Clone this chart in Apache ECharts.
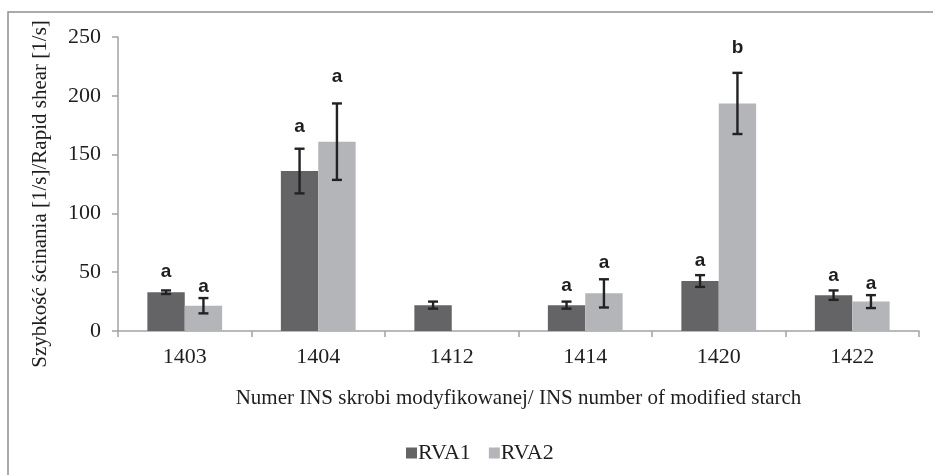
<!DOCTYPE html>
<html>
<head>
<meta charset="utf-8">
<script src="https://cdn.jsdelivr.net/npm/echarts@6/dist/echarts.min.js"></script>
<style>
  html, body { margin: 0; padding: 0; background: #fff; }
  #main { width: 933px; height: 475px; }
</style>
</head>
<body>
<div id="main"></div>
<script>
// kategorie (numer INS) i wartości
var categories = ["1403", "1404", "1412", "1414", "1420", "1422"];
var rva1 = [33, 136, 22, 22, 42.5, 30.5];
var rva2 = [21.5, 161, null, 32, 193.5, 25];
// odchylenia (± wartość słupka błędu)
var err1 = [1.5, 19, 3, 3, 5, 4];
var err2 = [6.5, 32.5, null, 12, 26, 5.5];
// litery istotności i wysokość ich zaczepienia (w jednostkach osi Y)
var letters1 = ["a", "a", "", "a", "a", "a"];
var letters2 = ["a", "a", "", "a", "b", "a"];
var letterAt1 = [50, 174, null, 38.5, 60, 47];
var letterAt2 = [37.5, 216, null, 58, 240.5, 40.5];
var yTicks = [0, 50, 100, 150, 200, 250];

var serif = "'Liberation Serif', 'Times New Roman', serif";
var narrow = "'Liberation Sans Narrow', 'Liberation Sans', Arial, sans-serif";
var ink = "#1e1e1e";
var gapRatio = 0.44;

/** słupki błędów + litery; side = -1 (RVA1) albo +1 (RVA2) */
function errorSeries(name, vals, errs, letters, letterAt, side) {
    var data = vals.map(function (v, i) {
        if (v == null) return [i, null, null, null, ""];
        return [i, v - errs[i], v + errs[i], letterAt[i], letters[i]];
    });
    return {
        name: name + "-err", type: "custom", z: 5,
        data: data,
        renderItem: function (params, api) {
            var lo = api.value(1);
            if (lo == null || isNaN(lo)) return;
            var hi = api.value(2);
            var band = api.size([1, 0])[0];
            var barW = band * (1 - gapRatio) / 2;
            var pLo = api.coord([api.value(0), lo]);
            var pHi = api.coord([api.value(0), hi]);
            var x = pLo[0] + side * barW / 2;
            var cap = 5;
            var st = { stroke: "#222", lineWidth: 2.4 };
            var children = [
                { type: "line", shape: { x1: x, y1: pHi[1], x2: x, y2: pLo[1] }, style: st },
                { type: "line", shape: { x1: x - cap, y1: pHi[1], x2: x + cap, y2: pHi[1] }, style: st },
                { type: "line", shape: { x1: x - cap, y1: pLo[1], x2: x + cap, y2: pLo[1] }, style: st }
            ];
            var txt = data[params.dataIndex][4];
            if (txt) {
                var pL = api.coord([api.value(0), api.value(3)]);
                children.push({
                    type: "text",
                    style: {
                        x: x, y: pL[1], text: txt,
                        fill: ink, font: "bold 19px " + narrow,
                        align: "center", verticalAlign: "middle"
                    }
                });
            }
            return { type: "group", children: children };
        }
    };
}

var chart = echarts.init(document.getElementById("main"), null, { renderer: "canvas" });

chart.setOption({
    backgroundColor: "#fff",
    animation: false,
    textStyle: { fontFamily: serif },
    graphic: [
        {
            type: "rect", silent: true,
            shape: { x: 8, y: 12, width: 940, height: 480 },
            style: { fill: "none", stroke: "#8e8e8e", lineWidth: 1.5 }
        },
        {
            type: "text", silent: true,
            x: 40, y: 194, rotation: Math.PI / 2,
            style: {
                text: "Szybkość ścinania [1/s]/Rapid shear [1/s]",
                fill: ink, font: "21px " + serif,
                align: "center", verticalAlign: "middle"
            }
        }
    ],
    legend: {
        data: ["RVA1", "RVA2"],
        left: 401, top: 437,
        icon: "rect", itemWidth: 11, itemHeight: 11, itemGap: 18,
        textStyle: { color: ink, fontSize: 22, fontFamily: serif, padding: [0, 0, 0, -4] }
    },
    grid: { left: 118, right: 14, top: 37, bottom: 144 },
    xAxis: {
        type: "category", data: categories,
        name: "Numer INS skrobi modyfikowanej/ INS number of modified starch",
        nameLocation: "middle", nameGap: 57,
        nameTextStyle: { color: ink, fontSize: 21, fontFamily: serif },
        axisLine: { lineStyle: { color: "#a3a3a3", width: 1.5 } },
        axisTick: { show: true, alignWithLabel: false, length: 6, lineStyle: { color: "#a3a3a3", width: 1.5 } },
        axisLabel: { color: ink, fontSize: 22, fontFamily: serif, margin: 15 }
    },
    yAxis: {
        type: "value", min: 0, max: 250, interval: 50,
        axisLine: { show: true, lineStyle: { color: "#a3a3a3", width: 1.5 } },
        axisTick: { show: true, length: 6, lineStyle: { color: "#a3a3a3", width: 1.5 } },
        splitLine: { show: false },
        axisLabel: {
            color: ink, fontSize: 22, fontFamily: serif, margin: 17,
            formatter: function (v) { return yTicks.indexOf(v) >= 0 ? String(v) : ""; }
        }
    },
    series: [
        {
            name: "RVA1", type: "bar", data: rva1,
            barGap: "0%", barCategoryGap: (gapRatio * 100) + "%",
            itemStyle: { color: "#646466" }
        },
        {
            name: "RVA2", type: "bar", data: rva2,
            barGap: "0%", barCategoryGap: (gapRatio * 100) + "%",
            itemStyle: { color: "#b4b5b9" }
        },
        errorSeries("RVA1", rva1, err1, letters1, letterAt1, -1),
        errorSeries("RVA2", rva2, err2, letters2, letterAt2, 1)
    ]
});
</script>
</body>
</html>
